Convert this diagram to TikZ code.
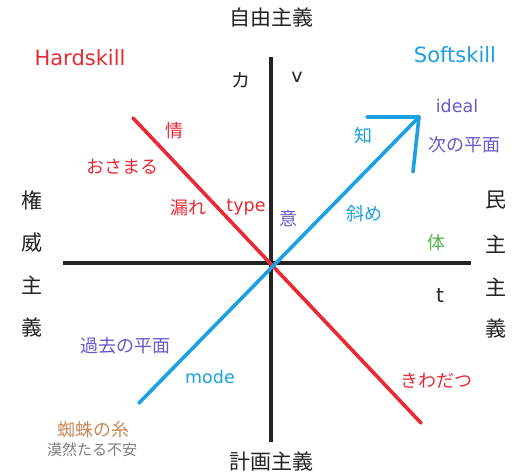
\documentclass[tikz,border=0pt]{standalone}
\usepackage{fontspec}
\setmainfont{DejaVu Sans}
\newfontfamily\jp{Noto Sans CJK JP}
\definecolor{hred}{RGB}{232,42,52}
\definecolor{sblue}{RGB}{28,160,226}
\definecolor{purp}{RGB}{100,90,205}
\definecolor{grn}{RGB}{80,180,80}
\definecolor{brn}{RGB}{200,135,90}
\definecolor{gry}{RGB}{125,125,125}
\definecolor{ink}{RGB}{35,35,35}
\begin{document}
\begin{tikzpicture}[x=1pt,y=-1pt,
  lbl/.style={inner sep=0pt,font=\jp\fontsize{18}{18}\selectfont},
  lat/.style={inner sep=0pt,font=\fontsize{17.5}{18}\selectfont},
  big/.style={inner sep=0pt,font=\jp\fontsize{21}{21}\selectfont,text=ink},
  axis/.style={line width=3.6pt,ink},
  hline/.style={line width=3.6pt,hred,line cap=round},
  sline/.style={line width=3.6pt,sblue,line cap=round}]
\path[use as bounding box,fill=white] (0,0) rectangle (528,473);
% axes
\coordinate (vt) at (271,57);
\coordinate (vb) at (271,442);
\coordinate (hl) at (63,263);
\coordinate (hr) at (471,263);
\draw[axis] (vt) -- (vb);
\draw[axis] (hl) -- (hr);
% hard skill line
\coordinate (r1) at (133,118);
\coordinate (r2) at (421,423);
\draw[hline] (r1) -- (r2);
% soft skill line with open arrow
\coordinate (b1) at (139,403);
\coordinate (tip) at (419,117);
\coordinate (al) at (367,117);
\coordinate (ad) at (413,172);
\draw[sline] (b1) -- (tip);
\draw[sline,line join=round] (al) -- (tip) -- (ad);
% axis titles
\node[big] (top) at (271,18) {自由主義};
\node[big] (bot) at (271,461) {計画主義};
\node[big] (l1) at (32,200) {権};
\node[big] (l2) at (32,243) {威};
\node[big] (l3) at (32,285) {主};
\node[big] (l4) at (32,327) {義};
\node[big] (r1t) at (496,200) {民};
\node[big] (r2t) at (496,244) {主};
\node[big] (r3t) at (496,287) {主};
\node[big] (r4t) at (496,328) {義};
% skill titles
\node[inner sep=0pt,font=\fontsize{21}{21}\selectfont,text=hred] (hard) at (80,58) {Hardskill};
\node[inner sep=0pt,font=\fontsize{21}{21}\selectfont,text=sblue] (soft) at (455,55) {Softskill};
% axis letters
\node[lbl,text=ink,font=\jp\fontsize{19}{19}\selectfont] (ka) at (241,80) {カ};
\node[inner sep=0pt,font=\fontsize{19}{19}\selectfont,text=ink] (v) at (297,77) {v};
\node[inner sep=0pt,font=\fontsize{20}{20}\selectfont,text=ink] (t) at (440,295) {t};
% red labels
\node[lbl,text=hred] (jou) at (174,131) {情};
\node[lbl,text=hred] (osa) at (122,167) {おさまる};
\node[lbl,text=hred] (more) at (188,208) {漏れ};
\node[lat,text=hred] (type) at (246,207) {type};
\node[lbl,text=hred] (kiwa) at (436,381) {きわだつ};
% blue labels
\node[lbl,text=sblue] (chi) at (363,136) {知};
\node[lbl,text=sblue] (nana) at (364,214) {斜め};
\node[lat,text=sblue] (mode) at (210,377) {mode};
% purple labels
\node[lbl,text=purp] (i) at (288,219) {意};
\node[lat,text=purp] (ideal) at (457,106) {ideal};
\node[lbl,text=purp] (next) at (464,145) {次の平面};
\node[lbl,text=purp] (past) at (125,346) {過去の平面};
% others
\node[lbl,text=grn] (tai) at (436,243) {体};
\node[lbl,text=brn] (kumo) at (93,430) {蜘蛛の糸};
\node[lbl,text=gry,font=\jp\fontsize{15}{15}\selectfont] (baku) at (92,450) {漠然たる不安};
\end{tikzpicture}
\end{document}
